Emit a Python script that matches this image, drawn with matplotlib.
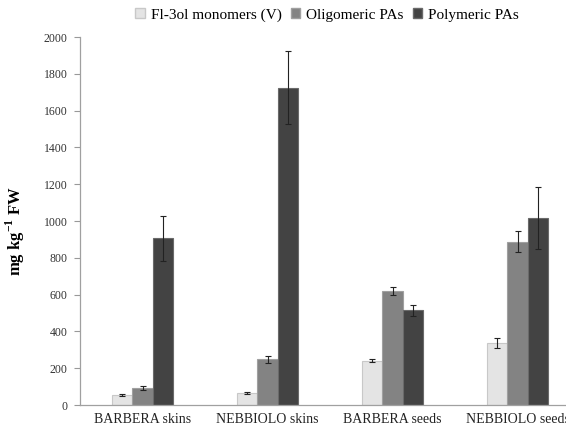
import matplotlib
matplotlib.use("Agg")
import matplotlib.pyplot as plt
import numpy as np
from matplotlib.patches import Patch

categories = ["BARBERA skins", "NEBBIOLO skins", "BARBERA seeds", "NEBBIOLO seeds"]
series_names = ["Fl-3ol monomers (V)", "Oligomeric PAs", "Polymeric PAs"]
monomers = [55, 65, 241, 337]
monomers_err = [5, 6, 8, 27]
oligomeric = [92, 248, 621, 888]
oligomeric_err = [10, 20, 22, 57]
polymeric = [905, 1725, 516, 1015]
polymeric_err = [120, 200, 30, 168]
yticks = [0, 200, 400, 600, 800, 1000, 1200, 1400, 1600, 1800, 2000]

colors = ["#e4e4e4", "#838383", "#434343"]
edges = ["#c8c8c8", "#a0a0a0", "#6a6a6a"]

plt.rcParams['font.family'] = ['Liberation Serif', 'DejaVu Serif']

fig = plt.figure(figsize=(5.66, 4.30), dpi=100)
W, H = 566, 430
ax = fig.add_axes([80 / W, (430 - 405) / H, 500 / W, (405 - 37) / H])

x = np.arange(len(categories))
bw = 0.165
vals = [monomers, oligomeric, polymeric]
errs = [monomers_err, oligomeric_err, polymeric_err]
for i in range(3):
    ax.bar(x + (i - 1) * bw, vals[i], width=bw, color=colors[i],
           edgecolor=edges[i], linewidth=0.8,
           yerr=errs[i], error_kw=dict(ecolor="#222222", elinewidth=0.8, capsize=2.5, capthick=0.8))

ax.set_xlim(-0.5, 3.5)
ax.set_ylim(0, 2000)
ax.set_yticks(yticks)
ax.set_yticklabels([str(t) for t in yticks], fontsize=8.5, color="#333333")
ax.set_xticks(x)
ax.set_xticklabels(categories, fontsize=10, color="#222222")
ax.tick_params(axis='x', length=0, pad=6)
ax.tick_params(axis='y', length=4, color="#999999", width=0.8, pad=5)
for s in ["top", "right"]:
    ax.spines[s].set_visible(False)
for s in ["left", "bottom"]:
    ax.spines[s].set_color("#a0a0a0")
    ax.spines[s].set_linewidth(0.9)

ax.set_ylabel("mg kg$^{\\mathregular{-1}}$ FW", fontsize=12, fontweight="bold")
ax.yaxis.set_label_coords(-53 / 500, 0.473)

handles = [Patch(facecolor=colors[i], edgecolor=edges[i]) for i in range(3)]
fig.legend(handles, series_names, loc="center", bbox_to_anchor=(327 / W, 1 - 15 / H),
           ncol=3, frameon=False, fontsize=11, handlelength=0.6, handleheight=0.6,
           handletextpad=0.4, columnspacing=0.6)

fig.savefig("out.png", dpi=100)
